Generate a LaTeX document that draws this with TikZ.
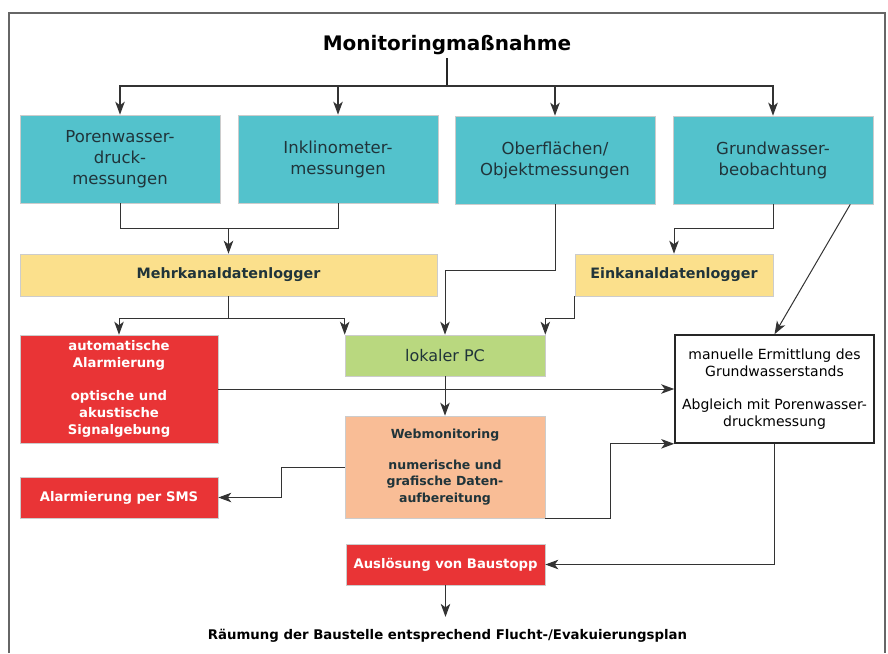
\documentclass[tikz,border=0pt]{standalone}
\usepackage{fontspec}
\setmainfont{DejaVu Sans}
\usepackage{tikz}
\definecolor{mycyan}{RGB}{83,194,204}
\definecolor{myyellow}{RGB}{251,224,140}
\definecolor{myred}{RGB}{233,52,54}
\definecolor{mygreen}{RGB}{185,216,127}
\definecolor{mysalmon}{RGB}{249,189,150}
\definecolor{mydark}{RGB}{32,52,58}
\usetikzlibrary{arrows.meta}

\begin{document}
\begin{tikzpicture}[x=1pt, y=-1pt, >={Stealth[length=13pt, width=9.5pt, inset=3.5pt]},   %Pfeilspitzen
					box/.style={draw=black!20, line width=0.6pt, align=center, inner sep=0pt},
					mess/.style={box, fill=mycyan, text=mydark, minimum width=200pt, minimum height=88pt, font=\fontsize{16.5}{21}\selectfont},
					logger/.style={box, fill=myyellow, text=mydark, minimum height=42pt, font=\bfseries\fontsize{14.3}{17}\selectfont},
					alarm/.style={box, fill=myred, text=white, minimum width=198pt, minimum height=41pt, font=\bfseries\fontsize{13.2}{16.8}\selectfont},
					verb/.style={draw=black!80, line width=1pt, ->}]
					\useasboundingbox (0,0) rectangle (888,653);
					\draw[black!60, line width=1.6pt] (9,653) -- (9,13) -- (885,13) -- (885,653);
					% Knoten
					\node[font=\bfseries\fontsize{20}{24}\selectfont] (mon) at (447,45) {Monitoringmaßnahme};
					\node[mess] (pw) at (120,159) {Porenwasser-\\druck-\\messungen};
					\node[mess] (ik) at (338,159) {Inklinometer-\\messungen};
					\node[mess] (of) at (555,160) {Oberflächen/\\Objektmessungen};
					\node[mess] (gw) at (773,160) {Grundwasser-\\beobachtung};
					\node[logger, minimum width=417pt] (mk) at (228.5,275) {Mehrkanaldatenlogger};
					\node[logger, minimum width=198pt] (ek) at (674,275) {Einkanaldatenlogger};
					\node[alarm, minimum height=108pt] (aa) at (119,389) {automatische\\Alarmierung\\[16pt]optische und\\akustische\\Signalgebung};
					\node[box, fill=mygreen, text=mydark, minimum width=200pt, minimum height=41pt, font=\fontsize{16}{19}\selectfont] (pc) at (445,355.5) {lokaler PC};
					\node[box, draw=black!85, line width=1.6pt, minimum width=199pt, minimum height=108pt, font=\fontsize{14}{16.8}\selectfont] (man) at (774.5,389) {manuelle Ermittlung des\\Grundwasserstands\\[16pt]Abgleich mit Porenwasser-\\druckmessung};
					\node[box, fill=mysalmon, text=mydark, minimum width=200pt, minimum height=102pt, font=\bfseries\fontsize{12.5}{16.8}\selectfont] (web) at (445,467) {Webmonitoring\\[14pt]numerische und\\grafische Daten-\\aufbereitung};
					\node[alarm] (sms) at (119,497.5) {Alarmierung per SMS};
					\node[alarm, minimum width=199pt] (stop) at (445.5,564.5) {Auslösung von Baustopp};
					\node[font=\bfseries\fontsize{13.3}{16}\selectfont] (raeum) at (447.5,636) {Räumung der Baustelle entsprechend Flucht-/Evakuierungsplan};
					% Verbindungen
					\coordinate (bus) at (447,86);
					\coordinate (m1) at (228.5,228);
					\coordinate (m2) at (228.5,318);
					\coordinate (o1) at (445,270);
					\coordinate (g1) at (773,228);
					\draw[black!85, line width=1.6pt] (mon.south) -- (bus);
					\draw[black!85, line width=1.8pt] (pw.north |- bus) -- (gw.north |- bus);
					\foreach \n in {pw,ik,of,gw}
						\draw[verb, line width=1.6pt] (bus) -| (\n.north);
					\draw[verb, -] (pw.south) |- (m1);
					\draw[verb, -] (ik.south) |- (m1);
					\draw[verb] (m1) -- (mk.north);
					\draw[verb, -] (mk.south) -- (m2);
					\draw[verb] (m2) -| (aa.north);
					\draw[verb] (m2) -| (pc.north west);
					\draw[verb] (of.south) |- (o1) -- (pc.north);
					\draw[verb] (gw.south) -- (g1) -| (ek.north);
					\draw[verb] (ek.south west) -- ++(0,22) -| (pc.north east);
					\draw[verb] ([xshift=-23pt]gw.south east) -- (man.north);
					\draw[verb] (aa.east) -- (man.west);
					\draw[verb] (pc.south) -- (web.north);
					\draw[verb] (web.west) -- ++(-63,0) |- (sms.east);
					\draw[verb] (web.south east) -- ++(65,0) |- (man.south west);
					\draw[verb] (man.south) |- (stop.east);
					\draw[verb, shorten >=9pt] (stop.south) -- (stop.south |- raeum.north);
				\end{tikzpicture}
\end{document}
